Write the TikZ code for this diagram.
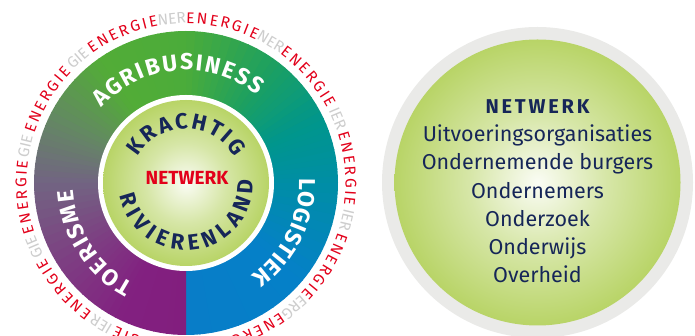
\documentclass[tikz,border=0pt]{standalone}
\usepackage{fontspec}
\setmainfont{Fira Sans}
\usetikzlibrary{decorations.text}

\definecolor{navy}{RGB}{22,38,88}
\definecolor{energyred}{RGB}{226,0,26}
\definecolor{energygray}{RGB}{205,205,205}
\definecolor{glowgreen}{RGB}{158,196,46}
\definecolor{ringgray}{RGB}{234,234,232}
% ring colours, counter-clockwise from the bottom
\definecolor{r0}{RGB}{8,125,200}
\definecolor{r1}{RGB}{5,128,200}
\definecolor{r2}{RGB}{0,142,165}
\definecolor{r3}{RGB}{0,150,140}
\definecolor{r4}{RGB}{30,160,95}
\definecolor{r5}{RGB}{75,172,58}
\definecolor{r6}{RGB}{82,172,55}
\definecolor{r7}{RGB}{100,135,100}
\definecolor{r8}{RGB}{114,100,130}
\definecolor{r9}{RGB}{126,60,130}
\definecolor{r10}{RGB}{130,32,128}
\definecolor{r11}{RGB}{130,30,126}
\pgfdeclareradialshading{glow}{\pgfpoint{0bp}{0bp}}{color(0bp)=(white!95!glowgreen); color(12bp)=(glowgreen!42!white); color(28bp)=(glowgreen!80!white); color(45bp)=(glowgreen); color(50bp)=(glowgreen!94!black)}

\newcommand\ringfont{\fontsize{23}{23}\selectfont\bfseries\color{white}}
\newcommand\corefont{\fontsize{22}{22}\selectfont\bfseries\color{navy}}
\newcommand\energyfont{\fontsize{15.5}{15.5}\selectfont}

\begin{document}
\begin{tikzpicture}[x=1pt, y=1pt,
  ringtext/.style={decorate, decoration={text along path, text align=fit to path, text={|\ringfont|#1}}},
  coretext/.style={decorate, decoration={text along path, text align=fit to path, text={|\corefont|#1}}},
  energy/.style={decorate, decoration={text along path, text align=fit to path, text={|\energyfont\color{energyred}|#1}}},
  graybit/.style={text=energygray, font=\energyfont, inner sep=0pt},
  listtext/.style={text=navy, font=\fontsize{21.5}{24}\selectfont, inner sep=0pt, anchor=base}]
\useasboundingbox (0,0) rectangle (695,336);
\coordinate (L) at (186,153);
\coordinate (R) at (537.5,153.5);

% colour ring
\foreach \a/\b/\ca/\cb in {-90/-40/r0/r1, -40/0/r1/r2, 0/25/r2/r3, 25/55/r3/r4, 55/90/r4/r5, 90/125/r5/r6,
                           125/155/r6/r7, 155/180/r7/r8, 180/215/r8/r9, 215/245/r9/r10, 245/270/r10/r11} {
  \foreach \t in {0,...,9} {
    \pgfmathtruncatemacro\p{10*\t+5}
    \pgfmathsetmacro\s{\a+(\b-\a)*\t/10}
    \pgfmathsetmacro\e{min(\a+(\b-\a)*(\t+1)/10+0.4,270)}
    \fill[\cb!\p!\ca] (L) -- ([shift={(\s:152)}]L) arc[start angle=\s, end angle=\e, radius=152] -- cycle;
  }
}
\fill[white] (L) circle[radius=88];
\shade[shading=glow] (L) circle[radius=83];

\path[ringtext=AGRIBUSINESS] ([shift={(138.5:113)}]L) arc[start angle=138.5, end angle=51, radius=113];
\path[ringtext=LOGISTIEK] ([shift={(2.5:113)}]L) arc[start angle=2.5, end angle=-55, radius=113];
\path[ringtext=TOERISME] ([shift={(242.5:113)}]L) arc[start angle=242.5, end angle=183.5, radius=113];
\path[coretext=KRACHTIG] ([shift={(151:54.5)}]L) arc[start angle=151, end angle=28, radius=54.5];
\path[coretext=RIVIERENLAND] ([shift={(191:67.5)}]L) arc[start angle=191, end angle=362, radius=67.5];
\node[text=energyred, font=\fontsize{19}{19}\selectfont\bfseries] (core) at (187,158) {NETWERK};

% energie ring
\foreach \k/\frag in {0/NER, 1/IER, 2/IER, 3/ERG, 4/GIE, 5/IER, 6/GIE, 7/GIE, 8/GIE, 9/NER} {
  \pgfmathsetmacro\s{90-36*\k}
  \pgfmathsetmacro\e{\s-26}
  \pgfmathsetmacro\m{\s-31}
  \path[energy=ENERGIE] ([shift={(\s:159.5)}]L) arc[start angle=\s, end angle=\e, radius=159.5];
  \node[graybit, rotate=\m-90] (gap\k) at ([shift={(\m:165)}]L) {\frag};
}

% network circle
\fill[ringgray] (R) circle[radius=155.5];
\shade[shading=glow] (R) circle[radius=143];
\node[listtext, font=\fontsize{20}{20}\selectfont\bfseries\addfontfeatures{LetterSpace=14}] (netw) at (537.5,222.5) {NETWERK};
\foreach \txt [count=\i] in {Uitvoeringsorganisaties, Ondernemende burgers, Ondernemers, Onderzoek, Onderwijs, Overheid}
  \node[listtext] (line\i) at ([yshift={-28.2*\i}]netw.base) {\txt};
\end{tikzpicture}
\end{document}
